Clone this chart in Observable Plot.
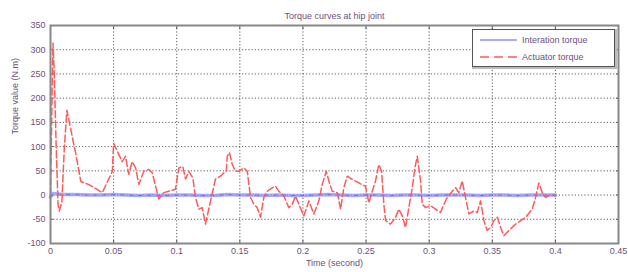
<!DOCTYPE html>
<html>
<head>
<meta charset="utf-8">
<script src="https://cdn.jsdelivr.net/npm/d3@7"></script>
<script src="https://cdn.jsdelivr.net/npm/@observablehq/plot@0.6"></script>
<style>
  html, body { margin: 0; padding: 0; background: #fff; }
  #wrap { position: relative; width: 628px; height: 272px; font-family: "Liberation Sans", Arial, sans-serif; }
  #legend { position: absolute; left: 472px; top: 29px; width: 141px; height: 36px; background: #fff;
            border: 1px solid #555; box-shadow: 1px 1px 0 1px #bbb; font-size: 9px; color: #6e5080; }
  .row { position: absolute; left: 0; height: 12px; display: flex; align-items: center; }
  .row svg { margin-left: 7px; margin-right: 5px; }
</style>
</head>
<body>
<div id="wrap"></div>
<script>
const title = "Torque curves at hip joint";
const xLabel = "Time (second)";
const yLabel = "Torque value (N.m)";
const seriesNames = ["Interation torque", "Actuator torque"];
const xTicks = [0, 0.05, 0.1, 0.15, 0.2, 0.25, 0.3, 0.35, 0.4, 0.45];
const yTicks = [-100, -50, 0, 50, 100, 150, 200, 250, 300, 350];

// Actuator torque (red dashed)
const actT = [0, 0.0012, 0.002, 0.003, 0.0045, 0.006, 0.007, 0.009, 0.011, 0.013, 0.015, 0.018, 0.02, 0.024, 0.03, 0.035, 0.041, 0.049, 0.05,
  0.0541, 0.0568, 0.0594, 0.062, 0.0647, 0.0674, 0.07, 0.0739, 0.0779, 0.0806, 0.0858, 0.0898, 0.0937, 0.099,
  0.1017, 0.1048, 0.107, 0.1096, 0.1128, 0.1149, 0.1175, 0.1202, 0.1228, 0.1268, 0.1307, 0.1347, 0.1373, 0.1392,
  0.14, 0.1418, 0.144, 0.1466, 0.1492, 0.1532, 0.1559, 0.1585, 0.1611, 0.1638, 0.1664, 0.169, 0.1717, 0.1757,
  0.1783, 0.1809, 0.1849, 0.1888, 0.1915, 0.1941, 0.1968, 0.2007, 0.2047, 0.2086, 0.2126, 0.2153, 0.2185, 0.2205,
  0.2232, 0.2272, 0.2298, 0.2324, 0.2351, 0.2391, 0.2443, 0.2496, 0.2522, 0.2549, 0.2575, 0.2601, 0.2623, 0.2641,
  0.2655, 0.2694, 0.2734, 0.276, 0.2787, 0.2813, 0.2839, 0.2866, 0.2887, 0.2906, 0.2932, 0.2945, 0.2972, 0.3011,
  0.3051, 0.309, 0.3117, 0.3143, 0.3183, 0.3209, 0.3235, 0.3262, 0.3288, 0.3315, 0.3354, 0.3381, 0.3407, 0.3434,
  0.346, 0.3487, 0.3513, 0.354, 0.3566, 0.3592, 0.3632, 0.3685, 0.3764, 0.3817, 0.3843, 0.3869, 0.3896, 0.3922,
  0.3962, 0.4];
const actV = [0, 200, 314, 250, 100, -20, -33, -15, 100, 175, 150, 110, 86, 28, 22, 15, 5, 49, 107,
  84, 69, 80, 43, 69, 56, 22, 49, 53, 46, -8, 5, 8, 12,
  56, 59, 33, 49, 35, -5, -29, -26, -60, -12, 33, 39, 46, 49,
  80, 88, 63, 49, 49, 56, 49, -5, -19, -26, -46, -5, 8, 15,
  18, 8, -2, -26, -19, -2, -19, -43, -12, -39, -12, 22, 49, 29,
  8, 5, -29, 15, 39, 32, 25, 18, -16, 8, 29, 63, 49, -19,
  -53, -60, -46, -29, -43, -67, -26, 15, 56, 80, 29, -19, -26, -22,
  -29, -36, -19, -5, 8, 15, 5, 29, -5, -39, -33, -36, -12, -53,
  -73, -67, -53, -46, -67, -84, -73, -60, -46, -29, -5, 25, 5, -5,
  1, -2];

// Interaction torque (blue solid)
const intT = [0, 0.002, 0.01, 0.02, 0.03, 0.04, 0.05, 0.06, 0.07, 0.08, 0.09, 0.1, 0.11, 0.12, 0.13, 0.14, 0.15,
  0.16, 0.17, 0.18, 0.19, 0.2, 0.21, 0.22, 0.23, 0.24, 0.25, 0.26, 0.27, 0.28, 0.29, 0.3, 0.31, 0.32, 0.33,
  0.34, 0.35, 0.36, 0.37, 0.38, 0.39, 0.4];
const intV = [-4, 3, 1, 1, 0, 0, 1, 0, -1, 0, -1, 0, 0, -1, -1, 1, 0, 0, -1, 0, -1, -1, 0, 1, 0, -1, 0,
  0, -1, 0, 0, -1, 0, 0, 0, -1, 0, 0, -1, 0, 0, 0];

const act = actT.map((t, i) => ({t, v: actV[i]}));
const inter = intT.map((t, i) => ({t, v: intV[i]}));

const txt = "#6e5080";
const fmt = d => String(d);
const blank = () => "";
const chart = Plot.plot({
  width: 628, height: 272,
  marginLeft: 50, marginRight: 10, marginTop: 25, marginBottom: 29,
  style: {fontFamily: "Liberation Sans, Arial, sans-serif", fontSize: "9px", color: txt, background: "#fff", overflow: "visible"},
  x: {domain: [0, 0.45], label: null},
  y: {domain: [-100, 350], label: null},
  marks: [
    Plot.ruleX(xTicks.slice(1, -1), {stroke: "#333", strokeWidth: 0.8, strokeDasharray: "1.2,2"}),
    Plot.ruleY(yTicks.slice(1, -1), {stroke: "#333", strokeWidth: 0.8, strokeDasharray: "1.2,2"}),
    Plot.axisX({ticks: xTicks, tickFormat: fmt, tickSize: -3, tickPadding: 7, label: null, stroke: "#555"}),
    Plot.axisX({anchor: "top", ticks: xTicks, tickFormat: blank, tickSize: -3, label: null, stroke: "#555"}),
    Plot.axisY({ticks: yTicks, tickFormat: fmt, tickSize: -3, tickPadding: 8, label: null, stroke: "#555"}),
    Plot.axisY({anchor: "right", ticks: yTicks, tickFormat: blank, tickSize: -3, label: null, stroke: "#555"}),
    Plot.line(inter, {x: "t", y: "v", stroke: "#8c8cff", strokeWidth: 3.5, strokeOpacity: 0.75}),
    Plot.line(inter, {x: "t", y: "v", stroke: "#3c3cd8", strokeWidth: 0.8, strokeDasharray: "3,6", strokeOpacity: 0.6}),
    Plot.line(act, {x: "t", y: "v", stroke: "#ff5a5a", strokeWidth: 1.5, strokeDasharray: "7,3"}),
    Plot.frame({stroke: "#888", strokeWidth: 2}),
    Plot.text([title], {frameAnchor: "top", dy: -13, fill: txt, fontSize: 9}),
    Plot.text([xLabel], {frameAnchor: "bottom", dy: 22, fill: txt, fontSize: 9}),
    Plot.text([yLabel], {frameAnchor: "left", dx: -35, rotate: -90, fill: txt, fontSize: 9})
  ]
});

const wrap = document.getElementById("wrap");
wrap.appendChild(chart);
const legend = document.createElement("div");
legend.id = "legend";
legend.innerHTML = `
  <div class="row" style="top:4px"><svg width="37" height="4"><line x1="0" y1="2" x2="37" y2="2" stroke="#8c8cff" stroke-width="1.6"/></svg><span>${seriesNames[0]}</span></div>
  <div class="row" style="top:21px"><svg width="37" height="4"><line x1="0" y1="2" x2="37" y2="2" stroke="#ff5a5a" stroke-width="1.4" stroke-dasharray="9,5"/></svg><span>${seriesNames[1]}</span></div>`;
wrap.appendChild(legend);
</script>
</body>
</html>
